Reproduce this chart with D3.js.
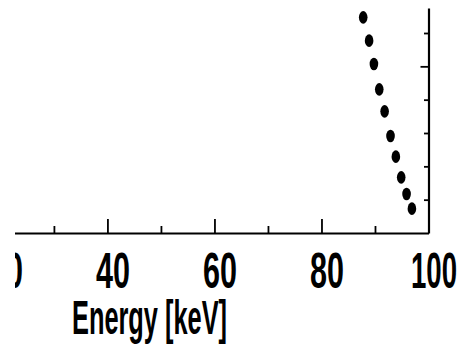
<html>
<head>
<script src="https://d3js.org/d3.v7.min.js"></script>
<style>
  body { margin: 0; background: #fff; }
  svg { font-family: "Liberation Sans Narrow", "Liberation Sans", Arial, sans-serif; }
</style>
</head>
<body>
<svg id="chart1" width="460" height="347"></svg>
<script>
  // energy [keV] and counts (y axis has no labels in the original)
  var energy = [87.8, 88.9, 89.8, 90.8, 91.8, 92.9, 93.9, 94.9, 95.9, 96.9];
  var counts = [6.47, 5.77, 5.07, 4.31, 3.65, 2.91, 2.29, 1.67, 1.17, 0.73];
  var xMajor = [20, 40, 60, 80, 100];
  var xMinor = [30, 50, 70, 90];
  var yMinor = [1, 2, 3, 4, 6];
  var yMajor = [5];

  var svg = d3.select("#chart1");
  var x = d3.scaleLinear().domain([20, 100]).range([0.4, 428.5]);
  var y = d3.scaleLinear().domain([0, 6.75]).range([233, 8]);

  svg.append("clipPath").attr("id", "clip")
    .append("rect").attr("x", 15).attr("y", 0).attr("width", 445).attr("height", 347);

  var g = svg.append("g").attr("clip-path", "url(#clip)");

  // bottom axis, ticks pointing into the plot
  var bottom = g.append("g")
    .attr("transform", "translate(0,233)")
    .call(d3.axisBottom(x).tickValues(xMajor).tickSize(-14).tickSizeOuter(0).tickFormat(d3.format("d")));
  bottom.select(".domain").attr("stroke-width", 2.2);
  bottom.selectAll(".tick line").attr("stroke-width", 1.8);
  bottom.selectAll(".tick text")
    .attr("y", 55)
    .attr("dy", 0)
    .attr("x", 5)
    .attr("fill", "#000")
    .style("font-size", "50px")
    .style("font-weight", "bold")
    .attr("textLength", function(d) { return d == 100 ? 46 : 34; })
    .attr("lengthAdjust", "spacingAndGlyphs");

  g.append("g")
    .attr("transform", "translate(0,233)")
    .call(d3.axisBottom(x).tickValues(xMinor).tickSize(-7).tickFormat(""))
    .call(function(a) { a.select(".domain").remove(); a.selectAll(".tick line").attr("stroke-width", 1.8); });

  // right axis, ticks pointing left
  var right = g.append("g")
    .attr("transform", "translate(428.5,0)")
    .call(d3.axisLeft(y).tickValues(yMinor).tickSize(4.5).tickSizeOuter(0).tickFormat(""));
  right.select(".domain").attr("stroke-width", 2.2);
  right.selectAll(".tick line").attr("stroke-width", 1.8);

  g.append("g")
    .attr("transform", "translate(428.5,0)")
    .call(d3.axisLeft(y).tickValues(yMajor).tickSize(8).tickFormat(""))
    .call(function(a) { a.select(".domain").remove(); a.selectAll(".tick line").attr("stroke-width", 1.8); });

  // data points
  g.append("g").selectAll("ellipse")
    .data(energy).enter()
    .append("ellipse")
      .attr("cx", function(d) { return x(d); })
      .attr("cy", function(d, i) { return y(counts[i]); })
      .attr("rx", 4.3)
      .attr("ry", 6.3)
      .attr("fill", "#000");

  // x axis title
  svg.append("text")
    .attr("x", 72)
    .attr("y", 334)
    .style("font-size", "48px")
    .style("font-weight", "bold")
    .attr("textLength", 155)
    .attr("lengthAdjust", "spacingAndGlyphs")
    .text("Energy [keV]");
</script>
</body>
</html>
